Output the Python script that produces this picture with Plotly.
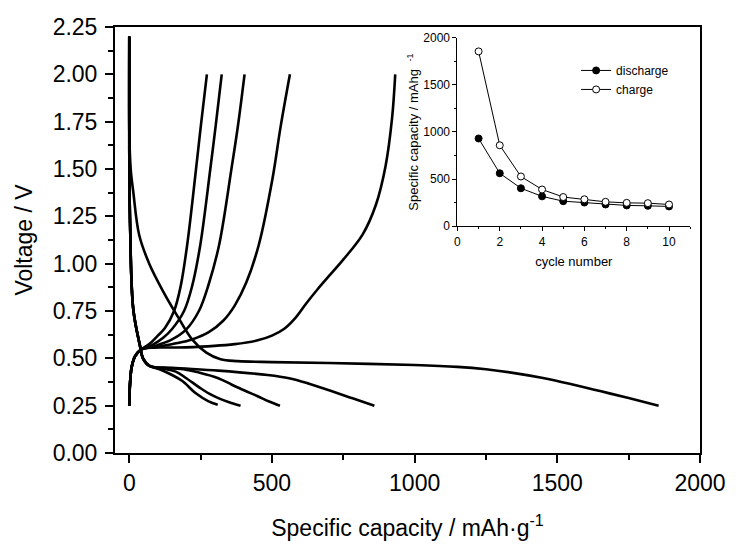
import plotly.graph_objects as go

# ---------------- main chart data (capacity mAh/g, voltage V) ----------------
cap_d1 = [0, 0, 5, 14, 35, 70, 120, 170, 220, 270, 320, 380, 500, 700, 1000, 1150, 1250, 1350, 1450, 1550, 1650, 1750, 1855]
v_d1 = [2.2, 1.7, 1.5, 1.38, 1.15, 1.0, 0.85, 0.72, 0.6, 0.53, 0.495, 0.485, 0.48, 0.475, 0.465, 0.455, 0.442, 0.422, 0.396, 0.363, 0.327, 0.29, 0.25]

cap_d2 = [0, 0, 3, 14, 37, 48, 71, 150, 312, 485, 560, 630, 703, 780, 859]
v_d2 = [2.2, 1.6, 1.2, 0.76, 0.57, 0.50, 0.46, 0.45, 0.435, 0.412, 0.395, 0.366, 0.33, 0.29, 0.25]

cap_d3 = [0, 0, 3, 14, 37, 48, 71, 120, 198, 244, 312, 358, 404, 450, 490, 528]
v_d3 = [2.2, 1.6, 1.2, 0.76, 0.57, 0.50, 0.46, 0.45, 0.44, 0.425, 0.395, 0.362, 0.33, 0.30, 0.272, 0.25]

cap_d4 = [0, 0, 3, 14, 37, 48, 71, 120, 163, 200, 244, 280, 312, 350, 390]
v_d4 = [2.2, 1.6, 1.2, 0.76, 0.57, 0.50, 0.46, 0.445, 0.43, 0.395, 0.348, 0.313, 0.29, 0.268, 0.25]

cap_d5 = [0, 0, 3, 14, 37, 48, 71, 110, 150, 186, 232, 278, 310]
v_d5 = [2.2, 1.6, 1.2, 0.76, 0.57, 0.50, 0.46, 0.44, 0.412, 0.38, 0.317, 0.273, 0.255]

cap_c1 = [0, 2, 8, 20, 40, 60, 198, 370, 450, 500, 542, 580, 620, 660, 700, 749, 818, 864, 898, 921, 932]
v_c1 = [0.25, 0.35, 0.45, 0.51, 0.545, 0.555, 0.558, 0.575, 0.595, 0.62, 0.655, 0.71, 0.79, 0.865, 0.935, 1.02, 1.155, 1.31, 1.515, 1.77, 2.0]

cap_c2 = [0, 2, 8, 20, 40, 106, 160, 220, 280, 330, 370, 410, 454, 502, 530, 563]
v_c2 = [0.25, 0.35, 0.45, 0.51, 0.545, 0.563, 0.578, 0.6, 0.64, 0.7, 0.78, 0.9, 1.1, 1.45, 1.72, 2.0]

cap_c3 = [0, 2, 8, 20, 40, 90, 150, 198, 244, 278, 315, 358, 381, 404]
v_c3 = [0.25, 0.35, 0.45, 0.51, 0.545, 0.565, 0.6, 0.65, 0.75, 0.89, 1.1, 1.5, 1.73, 2.0]

cap_c4 = [0, 2, 8, 20, 40, 80, 120, 150, 192, 220, 249, 284, 303, 324]
v_c4 = [0.25, 0.35, 0.45, 0.51, 0.545, 0.57, 0.61, 0.655, 0.75, 0.88, 1.1, 1.5, 1.73, 2.0]

cap_c5 = [0, 2, 8, 20, 40, 70, 100, 125, 157, 180, 203, 234, 251, 272]
v_c5 = [0.25, 0.35, 0.45, 0.51, 0.545, 0.575, 0.62, 0.66, 0.75, 0.88, 1.1, 1.5, 1.73, 2.0]

# ---------------- inset data ----------------
cycles = [1, 2, 3, 4, 5, 6, 7, 8, 9, 10]
inset_discharge = [931, 562, 403, 317, 266, 252, 231, 221, 217, 210]
inset_charge = [1855, 859, 528, 390, 310, 286, 259, 248, 245, 231]

main_x_ticks = [0, 500, 1000, 1500, 2000]
main_y_ticks = [0.0, 0.25, 0.5, 0.75, 1.0, 1.25, 1.5, 1.75, 2.0, 2.25]
inset_x_ticks = [0, 2, 4, 6, 8, 10]
inset_y_ticks = [0, 500, 1000, 1500, 2000]

FONT = "Liberation Sans, Arial, sans-serif"

fig = go.Figure()

curves = [(cap_d1, v_d1), (cap_d2, v_d2), (cap_d3, v_d3), (cap_d4, v_d4), (cap_d5, v_d5),
          (cap_c1, v_c1), (cap_c2, v_c2), (cap_c3, v_c3), (cap_c4, v_c4), (cap_c5, v_c5)]
for cx, cy in curves:
    fig.add_trace(go.Scatter(x=cx, y=cy, mode="lines", showlegend=False,
                             line=dict(color="black", width=2.6, shape="spline", smoothing=1.0),
                             hoverinfo="skip", xaxis="x", yaxis="y"))

fig.add_trace(go.Scatter(x=cycles, y=inset_discharge, mode="lines+markers", name="discharge",
                         line=dict(color="black", width=1),
                         marker=dict(symbol="circle", size=7, color="black", line=dict(color="black", width=1)),
                         xaxis="x2", yaxis="y2"))
fig.add_trace(go.Scatter(x=cycles, y=inset_charge, mode="lines+markers", name="charge",
                         line=dict(color="black", width=1),
                         marker=dict(symbol="circle", size=7, color="white", line=dict(color="black", width=1)),
                         xaxis="x2", yaxis="y2"))

x0d, x1d = (463.3 - 115) / 595, (700 - 115) / 595
y0d, y1d = (464.3 - 231.7) / 437, (464.3 - 38.3) / 437

fig.update_layout(
    width=738, height=549,
    margin=dict(l=115, r=28, t=27, b=85),
    paper_bgcolor="white", plot_bgcolor="white",
    font=dict(family=FONT, color="black"),
    xaxis=dict(range=[-50, 2000], tickvals=main_x_ticks, ticks="outside", ticklen=8, tickwidth=1.8,
               tickcolor="black", showline=True, linecolor="black", linewidth=2, mirror=True,
               showgrid=False, zeroline=False, tickfont=dict(size=23), ticklabelstandoff=0,
               minor=dict(dtick=250, tick0=0, ticks="outside", ticklen=5, tickwidth=1.5, tickcolor="black", showgrid=False),
               title=dict(text="Specific capacity / mAh·g<sup>-1</sup>", font=dict(size=23), standoff=25)),
    yaxis=dict(range=[0, 2.25], tickvals=main_y_ticks, tickformat=".2f", ticks="outside", ticklen=8,
               tickwidth=1.8, tickcolor="black", showline=True, linecolor="black", linewidth=2, mirror=True,
               showgrid=False, zeroline=False, tickfont=dict(size=23), ticklabelstandoff=3,
               minor=dict(dtick=0.125, tick0=0, ticks="outside", ticklen=5, tickwidth=1.5, tickcolor="black", showgrid=False),
               title=dict(text="Voltage / V", font=dict(size=23), standoff=14)),
    xaxis2=dict(domain=[x0d, x1d], anchor="y2", range=[0, 11], tickvals=inset_x_ticks, ticks="outside",
                ticklen=4, tickwidth=1, tickcolor="black", showline=True, linecolor="black", linewidth=1,
                showgrid=False, zeroline=False, tickfont=dict(size=12),
                minor=dict(dtick=1, tick0=0, ticks="outside", ticklen=2, tickwidth=1, tickcolor="black", showgrid=False),
                title=dict(text="cycle number", font=dict(size=13), standoff=9)),
    yaxis2=dict(domain=[y0d, y1d], anchor="x2", range=[0, 2000], tickvals=inset_y_ticks, ticks="outside",
                ticklen=4, tickwidth=1, tickcolor="black", showline=True, linecolor="black", linewidth=1,
                showgrid=False, zeroline=False, tickfont=dict(size=12),
                minor=dict(dtick=250, tick0=0, ticks="outside", ticklen=2, tickwidth=1, tickcolor="black", showgrid=False),
                title=dict(text="Specific capacity / mAhg<sup>&nbsp;&nbsp;&nbsp;-1</sup>", font=dict(size=13), standoff=1)),
    legend=dict(x=(584 - 115) / 595, y=(464.3 - 57) / 437, xanchor="left", yanchor="top",
                font=dict(size=12), bgcolor="rgba(0,0,0,0)", itemwidth=30, tracegroupgap=0),
    showlegend=True,
)

fig.write_html("out.html", config={"displayModeBar": False},
               post_script="document.body.style.margin='0px';document.body.style.overflow='hidden';")
